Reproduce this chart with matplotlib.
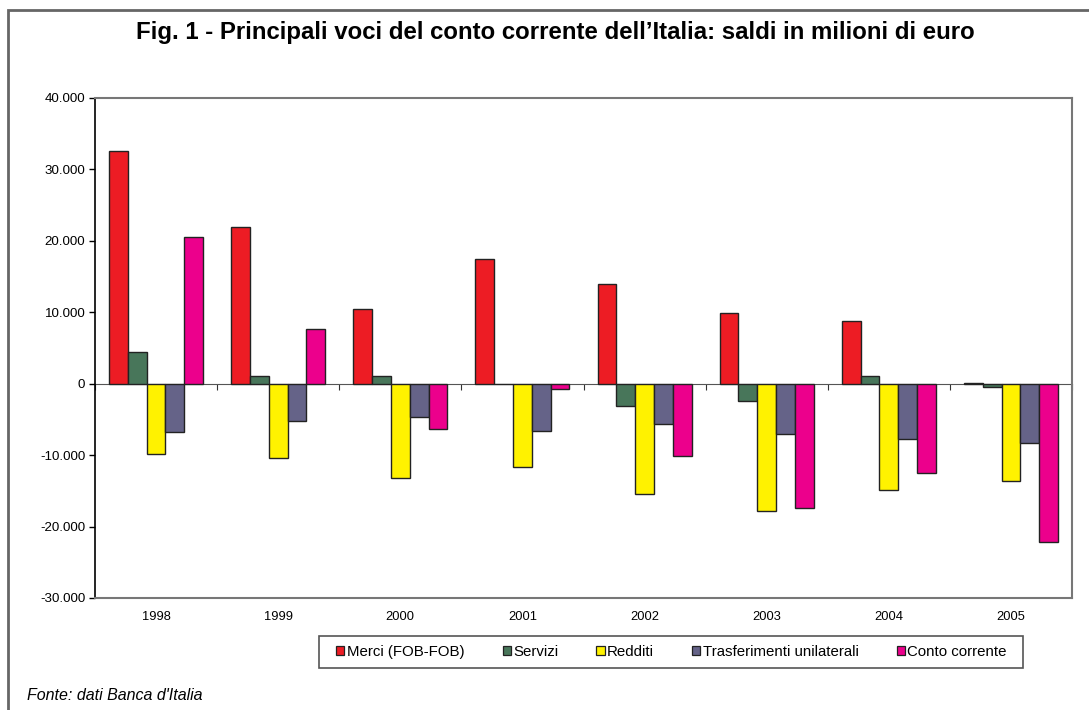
import numpy as np
import matplotlib
matplotlib.use("Agg")
import matplotlib.pyplot as plt
from matplotlib.patches import Rectangle
from matplotlib.ticker import FuncFormatter

plt.rcParams['font.family'] = ['Liberation Sans', 'DejaVu Sans']

anni = ['1998', '1999', '2000', '2001', '2002', '2003', '2004', '2005']
serie = ['Merci (FOB-FOB)', 'Servizi', 'Redditi', 'Trasferimenti unilaterali', 'Conto corrente']

merci = [32600, 22000, 10400, 17400, 14000, 9900, 8800, 150]
servizi = [4400, 1100, 1100, 0, -3100, -2450, 1150, -400]
redditi = [-9900, -10400, -13200, -11700, -15450, -17870, -14900, -13650]
trasferimenti = [-6700, -5200, -4700, -6600, -5700, -7100, -7800, -8250]
conto = [20500, 7600, -6350, -760, -10050, -17440, -12550, -22130]

colori = ['#ED1C24', '#48765A', '#FFF200', '#656388', '#EC008C']

W, H = 1089, 710
fig = plt.figure(figsize=(W / 100, H / 100), dpi=100)
ax = fig.add_axes([95 / W, 112 / H, 977 / W, 500 / H])

x = np.arange(len(anni))
w = 0.77 / 5
for i, (vals, nome) in enumerate(zip([merci, servizi, redditi, trasferimenti, conto], serie)):
    ax.bar(x - 0.385 + w * (i + 0.5), vals, width=w, color=colori[i],
           edgecolor='#222222', linewidth=1.0, label=nome, zorder=3)

ymin, ymax = -30000, 40000
ax.set_xlim(-0.5, len(anni) - 0.5)
ax.set_ylim(ymin, ymax)
ax.set_yticks(np.arange(ymin, ymax + 1, 10000))
ax.yaxis.set_major_formatter(FuncFormatter(lambda v, p: f"{int(v):,}".replace(',', '.')))
ax.tick_params(axis='y', direction='out', length=4, labelsize=9.6, width=1, pad=3)

ax.set_xticks(x)
ax.set_xticklabels(anni)
ax.tick_params(axis='x', length=0, labelsize=9.3, pad=9)

# asse orizzontale sullo zero con tacche tra le categorie
sec = ax.secondary_xaxis(-ymin / (ymax - ymin))
sec.set_xticks(np.arange(-0.5, len(anni), 1.0))
sec.set_xticklabels([])
sec.tick_params(direction='out', length=4, color='#333333')
sec.spines['bottom'].set_color('#555555')
sec.spines['top'].set_color('#555555')

for s in ['top', 'right', 'bottom']:
    ax.spines[s].set_color('#777777')
    ax.spines[s].set_linewidth(1.5)
ax.spines['left'].set_color('black')
ax.spines['left'].set_linewidth(1.2)

leg = fig.legend(loc='center', bbox_to_anchor=(671.5 / W, 1 - 652 / H), ncol=5,
                 fontsize=10.8, frameon=False, handlelength=0.55,
                 handleheight=0.55, handletextpad=0.15, columnspacing=2.55,
                 borderpad=0.3)
for h in leg.legend_handles:
    h.set_linewidth(0.9)
# cornice della legenda
fig.patches.append(Rectangle((319 / W, 1 - 668 / H), (1023 - 319) / W, 32 / H,
                             transform=fig.transFigure, fill=False,
                             edgecolor='#555555', linewidth=1.2))

fig.text(0.5096, 1 - 33 / H, "Fig. 1 - Principali voci del conto corrente dell\u2019Italia: saldi in milioni di euro",
         ha='center', va='center', fontsize=17.3, fontweight='bold')
fig.text(27 / W, 1 - 695 / H, "Fonte: dati Banca d'Italia", ha='left', va='center',
         fontsize=11.5, style='italic')

fig.patches.append(Rectangle((8 / W, -0.05), 1.1, 1 - 9.5 / H + 0.05, transform=fig.transFigure,
                             fill=False, edgecolor='#666666', linewidth=2))

fig.savefig('out.png', dpi=100)
